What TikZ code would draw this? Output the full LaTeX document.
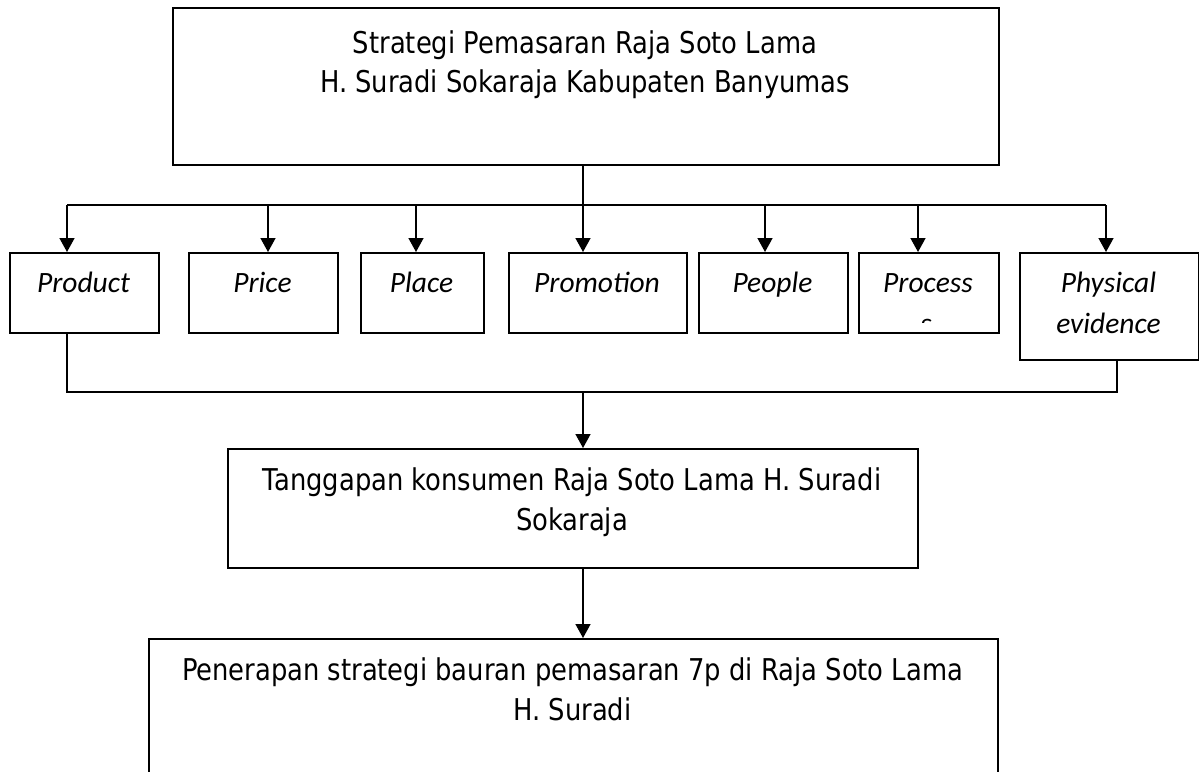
\documentclass[tikz,border=0pt]{standalone}
\usepackage{fontspec}
\setmainfont{DejaVu Sans}[FakeStretch=0.86]
\newfontfamily\calfont{Carlito}
\usetikzlibrary{arrows.meta}
\begin{document}
\begin{tikzpicture}[x=1pt,y=-1pt,
  box/.style={draw, line width=1.5pt, inner sep=0pt, anchor=north west},
  main/.style={font=\fontsize{30}{39}\selectfont, anchor=base, inner sep=0pt},
  lab/.style={font=\calfont\itshape\fontsize{29.5}{41}\selectfont, anchor=base, inner sep=0pt},
  arr/.style={line width=1.5pt, -{Triangle[width=15pt,length=14pt]}},
  ln/.style={line width=1.5pt}]
\useasboundingbox (0,0) rectangle (1199,771);
% boxes
\node[box, minimum width=826pt, minimum height=157pt] (top) at (172,7) {};
\node[box, minimum width=149pt, minimum height=80pt] (prod) at (9,252) {};
\node[box, minimum width=149pt, minimum height=80pt] (price) at (188,252) {};
\node[box, minimum width=123pt, minimum height=80pt] (place) at (360,252) {};
\node[box, minimum width=178pt, minimum height=80pt] (promo) at (508,252) {};
\node[box, minimum width=149pt, minimum height=80pt] (people) at (698,252) {};
\node[box, minimum width=140pt, minimum height=80pt] (proc) at (858,252) {};
\node[box, minimum width=179pt, minimum height=107pt] (phys) at (1019,252) {};
\node[box, minimum width=690pt, minimum height=119pt] (tang) at (227,448) {};
\node[box, minimum width=849pt, minimum height=170pt] (pen) at (148,638) {};
% texts
\node[main] (t1) at (585,53) {Strategi Pemasaran Raja Soto Lama};
\node[main] (t2) at (585,92) {H. Suradi Sokaraja Kabupaten Banyumas};
\node[lab] (lprod) at (83.5,292) {Product};
\node[lab] (lprice) at (262.5,292) {Price};
\node[lab] (lplace) at (421.5,292) {Place};
\node[lab] (lpromo) at (597,292) {Promotion};
\node[lab] (lpeople) at (772.5,292) {People};
\node[lab] (lproc) at (928,292) {Process};
\begin{scope}
  \clip (858,252) rectangle (998,322);
  \node[lab] (lproc2) at (926,333) {s};
\end{scope}
\node[lab] (lphys1) at (1108.5,292) {Physical};
\node[lab] (lphys2) at (1108.5,333) {evidence};
\node[main] (tg1) at (572,490) {Tanggapan konsumen Raja Soto Lama H. Suradi};
\node[main] (tg2) at (572,530) {Sokaraja};
\node[main] (pn1) at (572.5,680) {Penerapan strategi bauran pemasaran 7p di Raja Soto Lama};
\node[main] (pn2) at (572.5,720) {H. Suradi};
% connector coordinates
\coordinate (bus1) at (583,205);
\coordinate (aprod) at (67,205);
\coordinate (aprice) at (268,205);
\coordinate (aplace) at (416,205);
\coordinate (apromo) at (583,205);
\coordinate (apeople) at (765,205);
\coordinate (aproc) at (918,205);
\coordinate (aphys) at (1106,205);
\coordinate (bus2) at (583,392);
\coordinate (bprod) at (67,392);
\coordinate (bphys) at (1117,392);
% connectors
\draw[ln] (top.south -| bus1) -- (bus1);
\draw[ln] (aprod) -- (aphys);
\draw[arr] (aprod) -- (aprod |- prod.north);
\draw[arr] (aprice) -- (aprice |- price.north);
\draw[arr] (aplace) -- (aplace |- place.north);
\draw[arr] (apromo) -- (apromo |- promo.north);
\draw[arr] (apeople) -- (apeople |- people.north);
\draw[arr] (aproc) -- (aproc |- proc.north);
\draw[arr] (aphys) -- (aphys |- phys.north);
\draw[ln] (prod.south -| bprod) -- (bprod) -- (bphys) -- (phys.south -| bphys);
\draw[arr] (bus2) -- (tang.north -| bus2);
\draw[arr] (tang.south -| bus2) -- (pen.north -| bus2);
\end{tikzpicture}
\end{document}
